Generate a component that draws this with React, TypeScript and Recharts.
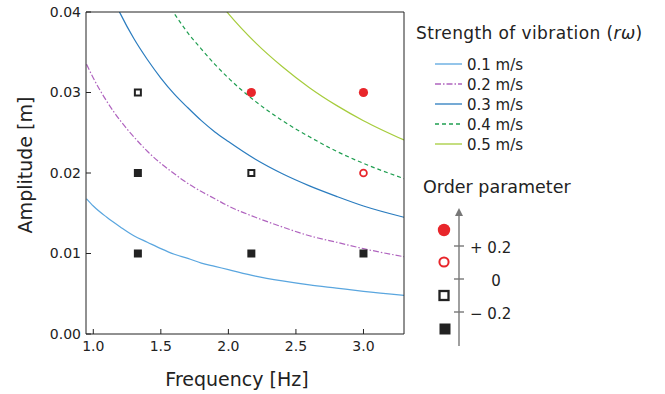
import React from 'react';
import { ComposedChart, Line, Scatter, XAxis, YAxis } from 'recharts';

// frequency samples [Hz]
const freq = [0.95, 1.0, 1.1, 1.2, 1.3, 1.4, 1.5, 1.6, 1.7, 1.8, 1.9, 2.0, 2.2, 2.4, 2.6, 2.8, 3.0, 3.3];
// amplitude [m] for each vibration strength
const amp01 = [0.0168, 0.0159, 0.0145, 0.0133, 0.0122, 0.0114, 0.0106, 0.0099, 0.0094, 0.0088, 0.0084, 0.008, 0.0072, 0.0066, 0.0061, 0.0057, 0.0053, 0.0048];
const amp02 = [0.0335, 0.0318, 0.0289, 0.0265, 0.0245, 0.0227, 0.0212, 0.0199, 0.0187, 0.0177, 0.0168, 0.0159, 0.0145, 0.0133, 0.0122, 0.0114, 0.0106, 0.0096];
const amp03 = [0.0503, 0.0477, 0.0434, 0.0398, 0.0367, 0.0341, 0.0318, 0.0298, 0.0281, 0.0265, 0.0251, 0.0239, 0.0217, 0.0199, 0.0184, 0.0171, 0.0159, 0.0145];
const amp04 = [0.067, 0.0637, 0.0579, 0.0531, 0.049, 0.0455, 0.0424, 0.0398, 0.0374, 0.0354, 0.0335, 0.0318, 0.0289, 0.0265, 0.0245, 0.0227, 0.0212, 0.0193];
const amp05 = [0.0838, 0.0796, 0.0723, 0.0663, 0.0612, 0.0568, 0.0531, 0.0497, 0.0468, 0.0442, 0.0419, 0.0398, 0.0362, 0.0332, 0.0306, 0.0284, 0.0265, 0.0241];

const seriesNames = ['0.1 m/s', '0.2 m/s', '0.3 m/s', '0.4 m/s', '0.5 m/s'];
const seriesKeys = ['v1', 'v2', 'v3', 'v4', 'v5'];
const seriesColors = ['#5aa6df', '#b064bf', '#2a7cbf', '#1f9e50', '#a6cc3c'];
const seriesDash = ['', '6 2 1.5 2', '', '4 3', ''];

// measured points, grouped by order parameter
const filledSquares = [
  { f: 1.33, a: 0.01 },
  { f: 1.33, a: 0.02 },
  { f: 2.17, a: 0.01 },
  { f: 3.0, a: 0.01 },
];
const openSquares = [
  { f: 1.33, a: 0.03 },
  { f: 2.17, a: 0.02 },
];
const filledCircles = [
  { f: 2.17, a: 0.03 },
  { f: 3.0, a: 0.03 },
];
const openCircles = [{ f: 3.0, a: 0.02 }];

const xMajor = [1.0, 1.5, 2.0, 2.5, 3.0];
const xMinor = [1.25, 1.75, 2.25, 2.75, 3.25];
const yMajor = [0, 0.01, 0.02, 0.03, 0.04];
const yMinor = [0.005, 0.015, 0.025, 0.035];
const orderTicks = ['+ 0.2', '0', '− 0.2'];

const curves = freq.map((f, i) => ({
  f,
  v1: amp01[i],
  v2: amp02[i],
  v3: amp03[i],
  v4: amp04[i],
  v5: amp05[i],
}));

const FONT = '"DejaVu Sans", sans-serif';
const INK = '#222';
const RED = '#e8262b';
const X_DOMAIN = [0.946, 3.3];
const Y_DOMAIN = [0, 0.04];

const FilledSquare = (p: any) => <rect x={p.cx - 4} y={p.cy - 4} width={8} height={8} fill={INK} />;
const OpenSquare = (p: any) => (
  <rect x={p.cx - 3} y={p.cy - 3} width={6} height={6} fill="#fff" stroke={INK} strokeWidth={2} />
);
const FilledCircle = (p: any) => <circle cx={p.cx} cy={p.cy} r={4.6} fill={RED} />;
const OpenCircle = (p: any) => <circle cx={p.cx} cy={p.cy} r={3.4} fill="#fff" stroke={RED} strokeWidth={1.8} />;

const XTitle = ({ viewBox }: any) => (
  <text x={viewBox.x + viewBox.width / 2 - 8} y={viewBox.y + 52} textAnchor="middle" fontSize={19} fontFamily={FONT} fill={INK}>
    Frequency [Hz]
  </text>
);

const YTitle = ({ viewBox }: any) => {
  const cx = viewBox.x + 25;
  const cy = viewBox.y + viewBox.height / 2 - 8;
  return (
    <text x={cx} y={cy} transform={`rotate(-90 ${cx} ${cy})`} textAnchor="middle" dominantBaseline="central" fontSize={19} fontFamily={FONT} fill={INK}>
      Amplitude [m]
    </text>
  );
};

const tickFont = { fontSize: 14, fontFamily: FONT, fill: INK };

const Legends = () => (
  <svg width={665} height={394} style={{ position: 'absolute', left: 0, top: 0, pointerEvents: 'none' }}>
    <text x={416} y={39} fontSize={17} letterSpacing={0.4} fontFamily={FONT} fill={INK}>
      Strength of vibration (<tspan fontStyle="italic">rω</tspan>)
    </text>
    {seriesNames.map((name, i) => (
      <g key={name}>
        <line x1={435} x2={462} y1={64 + i * 20} y2={64 + i * 20} stroke={seriesColors[i]} strokeWidth={1.3} strokeDasharray={seriesDash[i]} />
        <text x={467} y={69.5 + i * 20} fontSize={15} fontFamily={FONT} fill={INK}>
          {name}
        </text>
      </g>
    ))}
    <text x={423} y={193} fontSize={17.5} fontFamily={FONT} fill={INK}>
      Order parameter
    </text>
    <line x1={459} x2={459} y1={212} y2={346} stroke="#777" strokeWidth={1.4} />
    <path d="M455,216 L459,208 L463,216 Z" fill="#777" />
    {orderTicks.map((t, i) => (
      <g key={t}>
        <line x1={454} x2={464} y1={246 + i * 33} y2={246 + i * 33} stroke="#777" strokeWidth={1.4} />
        <text x={t === '0' ? 496 : 470} y={252.5 + i * 33} textAnchor={t === '0' ? 'middle' : 'start'} fontSize={15} fontFamily={FONT} fill={INK}>
          {t}
        </text>
      </g>
    ))}
    <circle cx={444} cy={230} r={6.2} fill={RED} />
    <circle cx={444} cy={262} r={4.6} fill="#fff" stroke={RED} strokeWidth={2} />
    <rect x={439.5} y={291} width={9} height={9} fill="#fff" stroke={INK} strokeWidth={2.3} />
    <rect x={439.5} y={323.5} width={11} height={11} fill={INK} />
  </svg>
);

export default function App() {
  return (
    <div style={{ position: 'absolute', left: 0, top: 0, width: 665, height: 394, background: '#fff' }}>
      <ComposedChart width={665} height={394} data={curves} margin={{ top: 12, right: 261, bottom: 22, left: 0 }}>
        <XAxis
          xAxisId="main"
          dataKey="f"
          type="number"
          domain={X_DOMAIN}
          allowDataOverflow
          ticks={xMajor}
          tickFormatter={(v: number) => v.toFixed(1)}
          tickSize={-5}
          tickMargin={12}
          height={38}
          stroke={INK}
          tick={tickFont}
          label={<XTitle />}
        />
        <XAxis xAxisId="bMinor" type="number" domain={X_DOMAIN} allowDataOverflow ticks={xMinor} mirror tick={false} tickSize={3} stroke={INK} axisLine={false} />
        <XAxis xAxisId="tMajor" orientation="top" type="number" domain={X_DOMAIN} allowDataOverflow ticks={xMajor} mirror tick={false} tickSize={5} stroke={INK} />
        <XAxis xAxisId="tMinor" orientation="top" type="number" domain={X_DOMAIN} allowDataOverflow ticks={xMinor} mirror tick={false} tickSize={3} stroke={INK} axisLine={false} />
        <YAxis
          yAxisId="main"
          type="number"
          domain={Y_DOMAIN}
          allowDataOverflow
          ticks={yMajor}
          tickFormatter={(v: number) => v.toFixed(2)}
          tickSize={-5}
          tickMargin={10}
          width={86}
          stroke={INK}
          tick={tickFont}
          label={<YTitle />}
        />
        <YAxis yAxisId="lMinor" type="number" domain={Y_DOMAIN} allowDataOverflow ticks={yMinor} mirror tick={false} tickSize={3} stroke={INK} axisLine={false} />
        <YAxis yAxisId="rMajor" orientation="right" type="number" domain={Y_DOMAIN} allowDataOverflow ticks={yMajor} mirror tick={false} tickSize={5} stroke={INK} />
        <YAxis yAxisId="rMinor" orientation="right" type="number" domain={Y_DOMAIN} allowDataOverflow ticks={yMinor} mirror tick={false} tickSize={3} stroke={INK} axisLine={false} />
        {seriesKeys.map((k, i) => (
          <Line
            key={k}
            xAxisId="main"
            yAxisId="main"
            type="monotone"
            dataKey={k}
            stroke={seriesColors[i]}
            strokeWidth={1.2}
            strokeDasharray={seriesDash[i]}
            dot={false}
            activeDot={false}
            isAnimationActive={false}
          />
        ))}
        <Scatter xAxisId="main" yAxisId="main" data={filledSquares} dataKey="a" shape={FilledSquare} isAnimationActive={false} />
        <Scatter xAxisId="main" yAxisId="main" data={openSquares} dataKey="a" shape={OpenSquare} isAnimationActive={false} />
        <Scatter xAxisId="main" yAxisId="main" data={filledCircles} dataKey="a" shape={FilledCircle} isAnimationActive={false} />
        <Scatter xAxisId="main" yAxisId="main" data={openCircles} dataKey="a" shape={OpenCircle} isAnimationActive={false} />
      </ComposedChart>
      <Legends />
    </div>
  );
}
